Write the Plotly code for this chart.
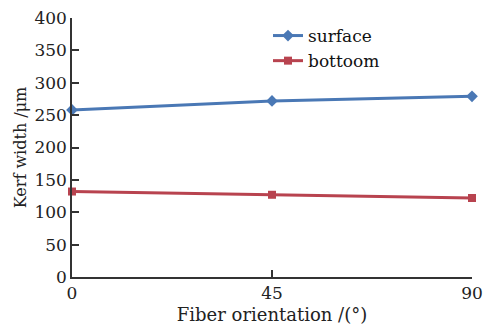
import plotly.graph_objects as go

orientation = [0, 45, 90]
surface = [258, 272, 279]
bottom = [132, 127, 122]
y_ticks = [0, 50, 100, 150, 200, 250, 300, 350, 400]
x_ticks = [0, 45, 90]

FONT = "DejaVu Serif"

fig = go.Figure()
fig.add_trace(go.Scatter(x=orientation, y=surface, name="surface", mode="lines+markers",
                         line=dict(color="#4a78b5", width=3),
                         marker=dict(symbol="diamond", size=9, color="#4a78b5")))
fig.add_trace(go.Scatter(x=orientation, y=bottom, name="bottoom", mode="lines+markers",
                         line=dict(color="#b8434f", width=3),
                         marker=dict(symbol="square", size=8, color="#b8434f")))

fig.update_layout(
    width=483, height=327,
    margin=dict(l=72, r=11, t=18, b=50),
    paper_bgcolor="white", plot_bgcolor="white",
    font=dict(family=FONT, size=16, color="#222"),
    showlegend=True,
    legend=dict(x=0.49, y=1.0, xanchor="left", yanchor="top", bgcolor="rgba(0,0,0,0)",
                font=dict(family=FONT, size=17, color="#111"), tracegroupgap=0,
                itemwidth=30),
    xaxis=dict(range=[0, 90], tickvals=x_ticks, ticks="inside", ticklen=7, tickwidth=1.5,
               tickcolor="#333", showline=True, linecolor="#333", linewidth=1.5,
               showgrid=False, zeroline=False, automargin=False,
               title=dict(text="Fiber orientation /(°)", standoff=6,
                          font=dict(family=FONT, size=18)),
               tickfont=dict(family=FONT, size=17)),
    yaxis=dict(range=[0, 400], tickvals=y_ticks, ticks="inside", ticklen=7, tickwidth=1.5,
               tickcolor="#333", showline=True, linecolor="#333", linewidth=1.5,
               showgrid=False, zeroline=False, automargin=False,
               title=dict(text="Kerf width /μm", standoff=4,
                          font=dict(family=FONT, size=16)),
               tickfont=dict(family=FONT, size=17)),
)
fig.update_traces(cliponaxis=False)
fig.write_html("out.html")
